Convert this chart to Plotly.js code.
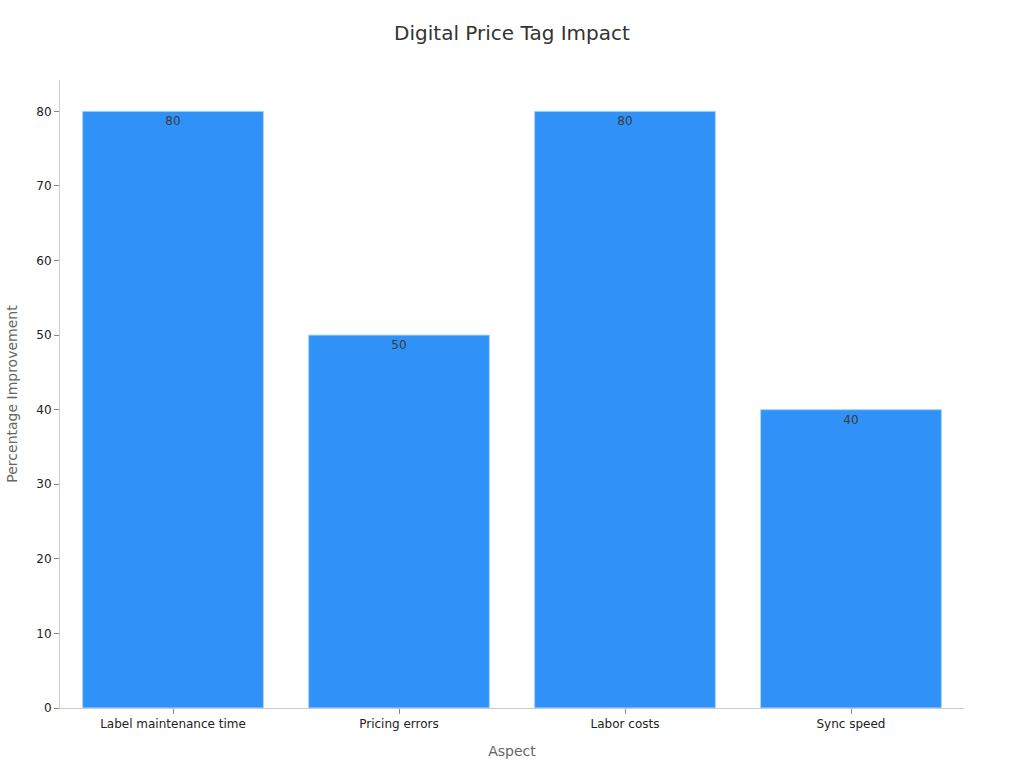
<!DOCTYPE html>
<html>
<head>
<meta charset="utf-8">
<script src="https://cdn.plot.ly/plotly-3.0.1.min.js"></script>
<style>
  html, body { margin: 0; padding: 0; background: #fff; }
  #chart { width: 1024px; height: 768px; }
</style>
</head>
<body>
<div id="chart"></div>
<script>
const aspects = ['Label maintenance time', 'Pricing errors', 'Labor costs', 'Sync speed'];
const improvement = [80, 50, 80, 40];

const trace = {
    x: aspects,
    y: improvement,
    type: 'bar',
    text: improvement.map(String),
    textposition: 'inside',
    insidetextanchor: 'end',
    textfont: { family: 'DejaVu Sans', size: 12, color: '#3a3a3a' },
    marker: {
        color: '#3092f8',
        line: { color: '#a8d4fb', width: 1 }
    },
    hoverinfo: 'x+y'
};

const layout = {
    width: 1024,
    height: 768,
    margin: { l: 60, r: 60, t: 80, b: 60 },
    paper_bgcolor: '#ffffff',
    plot_bgcolor: '#ffffff',
    font: { family: 'DejaVu Sans', size: 12, color: '#333333' },
    bargap: 0.2,
    showlegend: false,
    title: {
        text: 'Digital Price Tag Impact',
        font: { size: 20, color: '#333333' },
        x: 0.5,
        y: 0.957,
        yanchor: 'middle'
    },
    xaxis: {
        title: {
            text: 'Aspect',
            font: { size: 14, color: '#666666' },
            standoff: 15
        },
        showline: true,
        linecolor: '#cccccc',
        ticks: 'outside',
        ticklen: 5,
        tickcolor: '#888888',
        tickfont: { size: 12, color: '#222222' },
        showgrid: false
    },
    yaxis: {
        title: {
            text: 'Percentage Improvement',
            font: { size: 14, color: '#666666' },
            standoff: 15
        },
        range: [0, 84.2],
        dtick: 10,
        showline: true,
        linecolor: '#cccccc',
        ticks: 'outside',
        ticklen: 5,
        tickcolor: '#888888',
        tickfont: { size: 12, color: '#222222' },
        showgrid: false,
        zeroline: false
    }
};

Plotly.newPlot('chart', [trace], layout, { displayModeBar: false, responsive: false });
</script>
</body>
</html>
